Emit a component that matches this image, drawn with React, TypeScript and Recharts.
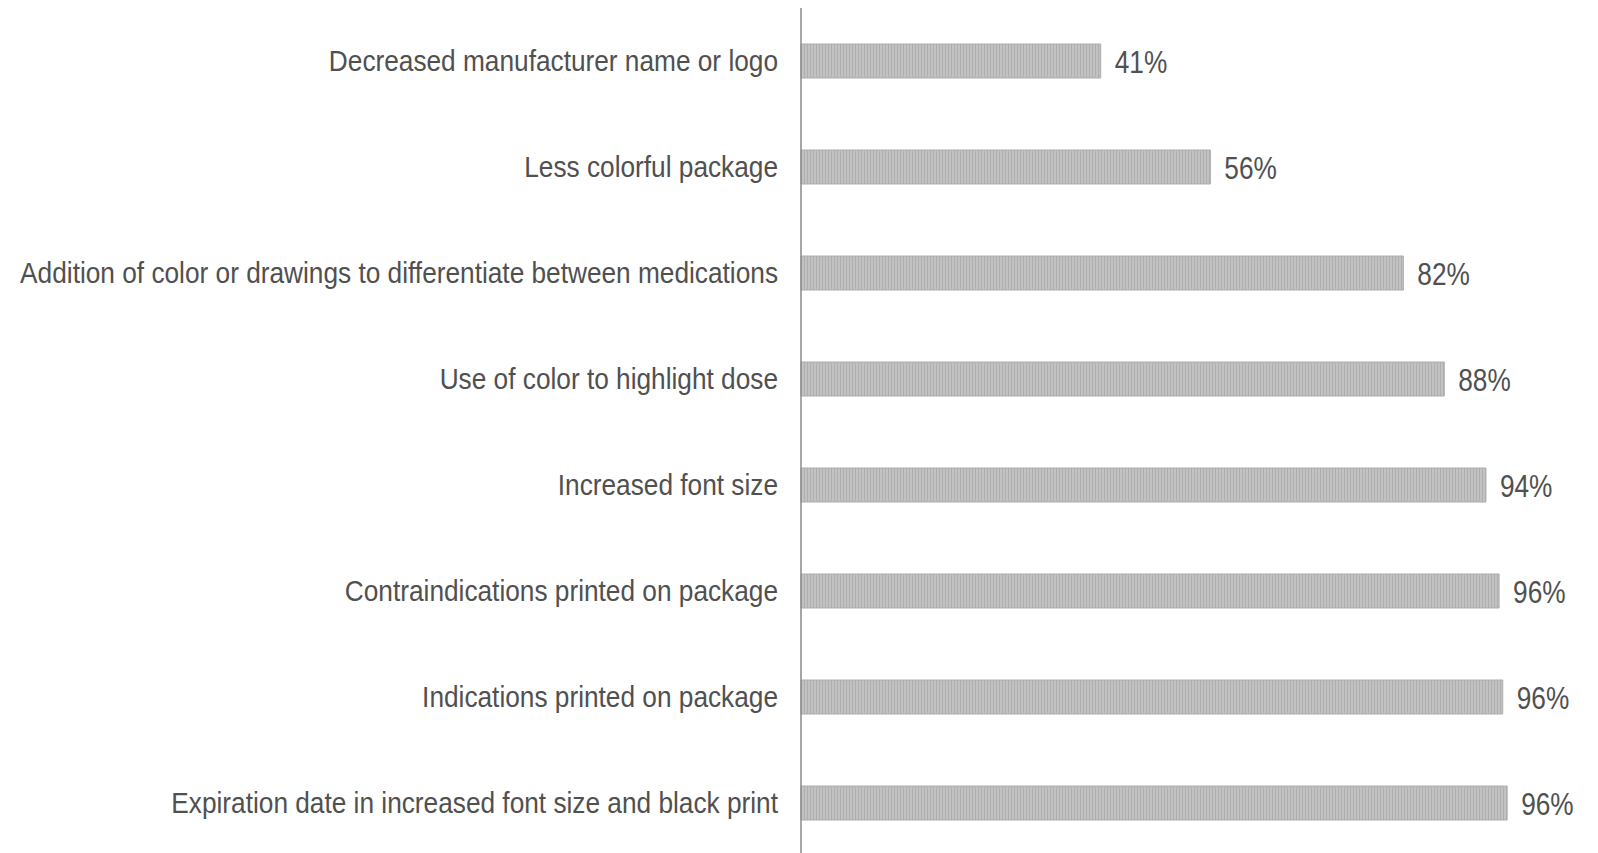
import { Bar, BarChart, LabelList, XAxis, YAxis } from "recharts";

const categories = [
  "Decreased manufacturer name or logo",
  "Less colorful package",
  "Addition of color or drawings to differentiate between medications",
  "Use of color to highlight dose",
  "Increased font size",
  "Contraindications printed on package",
  "Indications printed on package",
  "Expiration date in increased font size and black print",
];

// bar lengths
const shares = [41, 56, 82.4, 88, 93.7, 95.5, 96, 96.6];

// printed value labels
const shareLabels = ["41%", "56%", "82%", "88%", "94%", "96%", "96%", "96%"];

const data = categories.map((name, i) => ({
  name,
  share: shares[i],
  label: shareLabels[i],
}));

const FONT = "'Liberation Sans', Arial, sans-serif";

function CategoryTick(props: any) {
  const { x, y, payload } = props;
  return (
    <g transform={`translate(${x - 23},${y - 1})`}>
      <text
        transform="scale(0.875,1)"
        textAnchor="end"
        dy="0.36em"
        fontSize={30}
        fontFamily={FONT}
        fill="#505050"
      >
        {payload.value}
      </text>
    </g>
  );
}

function ValueLabel(props: any) {
  const { x, y, width, height, value } = props;
  return (
    <g transform={`translate(${x + width + 14},${y + height / 2})`}>
      <text
        transform="scale(0.82,1)"
        dy="0.36em"
        fontSize={32}
        fontFamily={FONT}
        fill="#505050"
      >
        {value}
      </text>
    </g>
  );
}

export default function App() {
  return (
    <div style={{ position: "absolute", top: 0, left: 0, background: "#fff" }}>
      <BarChart
        width={1598}
        height={856}
        data={data}
        layout="vertical"
        margin={{ top: 8, right: 66, left: 0, bottom: 0 }}
        barSize={34}
      >
        <defs>
          <pattern id="stripes" width="3" height="10" patternUnits="userSpaceOnUse">
            <rect width="3" height="10" fill="#c2c2c2" />
            <rect width="1" height="10" fill="#afafaf" />
          </pattern>
        </defs>
        <XAxis type="number" domain={[0, 100]} hide />
        <YAxis
          type="category"
          dataKey="name"
          width={801}
          tickLine={false}
          tickSize={0}
          tickMargin={0}
          axisLine={{ stroke: "#8a8a8a", strokeWidth: 1.5 }}
          tick={<CategoryTick />}
          interval={0}
        />
        <Bar
          dataKey="share"
          fill="url(#stripes)"
          stroke="#adadad"
          strokeWidth={1}
          isAnimationActive={false}
        >
          <LabelList dataKey="label" content={<ValueLabel />} />
        </Bar>
      </BarChart>
    </div>
  );
}
